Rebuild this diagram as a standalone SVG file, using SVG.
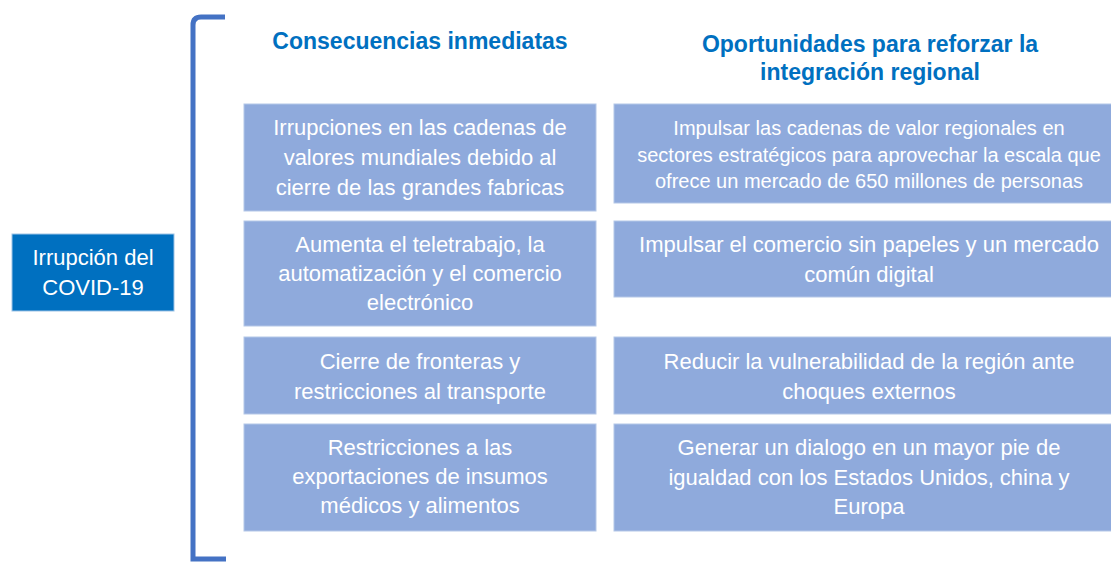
<svg xmlns="http://www.w3.org/2000/svg" width="1111" height="562" viewBox="0 0 1111 562">
<style>
.box{fill:#8FAADC;stroke:#B4C7E7;stroke-width:1}
.main{fill:#0070C0;stroke:#9DC3E6;stroke-width:1}
.t{font-family:"Liberation Sans",Arial,sans-serif;font-size:22px;fill:#FFFFFF;text-anchor:middle}
.ts{font-size:20px}
.h{font-family:"Liberation Sans",Arial,sans-serif;font-size:23px;font-weight:bold;fill:#0070C0;text-anchor:middle}
.br{fill:none;stroke:#4472C4;stroke-width:5}
</style>
<rect width="1111" height="562" fill="#FFFFFF"/>
<g id="connectors">
<path class="br" d="M225,17 L201,17 Q193,17 193,25 L193,559 L226,559"/>
</g>
<g id="node-covid">
<rect class="main" x="12" y="234" width="162" height="77"/>
<text class="t"><tspan x="93" y="265">Irrupción del</tspan><tspan x="93" y="295">COVID-19</tspan></text>
</g>
<g id="header-consecuencias">
<text class="h" x="420" y="49">Consecuencias inmediatas</text>
</g>
<g id="header-oportunidades">
<text class="h"><tspan x="870" y="52">Oportunidades para reforzar la</tspan><tspan x="870" y="80">integración regional</tspan></text>
</g>
<g id="cons-1">
<rect class="box" x="244" y="104" width="352" height="107"/>
<text class="t"><tspan x="420" y="135">Irrupciones en las cadenas de</tspan><tspan x="420" y="165">valores mundiales debido al</tspan><tspan x="420" y="195">cierre de las grandes fabricas</tspan></text>
</g>
<g id="cons-2">
<rect class="box" x="244" y="221" width="352" height="105"/>
<text class="t"><tspan x="420" y="252">Aumenta el teletrabajo, la</tspan><tspan x="420" y="281">automatización y el comercio</tspan><tspan x="420" y="310">electrónico</tspan></text>
</g>
<g id="cons-3">
<rect class="box" x="244" y="337" width="352" height="77"/>
<text class="t"><tspan x="420" y="369">Cierre de fronteras y</tspan><tspan x="420" y="399">restricciones al transporte</tspan></text>
</g>
<g id="cons-4">
<rect class="box" x="244" y="424" width="352" height="107"/>
<text class="t"><tspan x="420" y="455">Restricciones a las</tspan><tspan x="420" y="484">exportaciones de insumos</tspan><tspan x="420" y="513">médicos y alimentos</tspan></text>
</g>
<g id="opor-1">
<rect class="box" x="614" y="104" width="510" height="99"/>
<text class="t ts"><tspan x="869" y="135">Impulsar las cadenas de valor regionales en</tspan><tspan x="869" y="162">sectores estratégicos para aprovechar la escala que</tspan><tspan x="869" y="188">ofrece un mercado de 650 millones de personas</tspan></text>
</g>
<g id="opor-2">
<rect class="box" x="614" y="221" width="510" height="76"/>
<text class="t"><tspan x="869" y="252">Impulsar el comercio sin papeles y un mercado</tspan><tspan x="869" y="282">común digital</tspan></text>
</g>
<g id="opor-3">
<rect class="box" x="614" y="337" width="510" height="77"/>
<text class="t"><tspan x="869" y="369">Reducir la vulnerabilidad de la región ante</tspan><tspan x="869" y="399">choques externos</tspan></text>
</g>
<g id="opor-4">
<rect class="box" x="614" y="424" width="510" height="107"/>
<text class="t"><tspan x="869" y="455">Generar un dialogo en un mayor pie de</tspan><tspan x="869" y="485">igualdad con los Estados Unidos, china y</tspan><tspan x="869" y="514">Europa</tspan></text>
</g>
</svg>
